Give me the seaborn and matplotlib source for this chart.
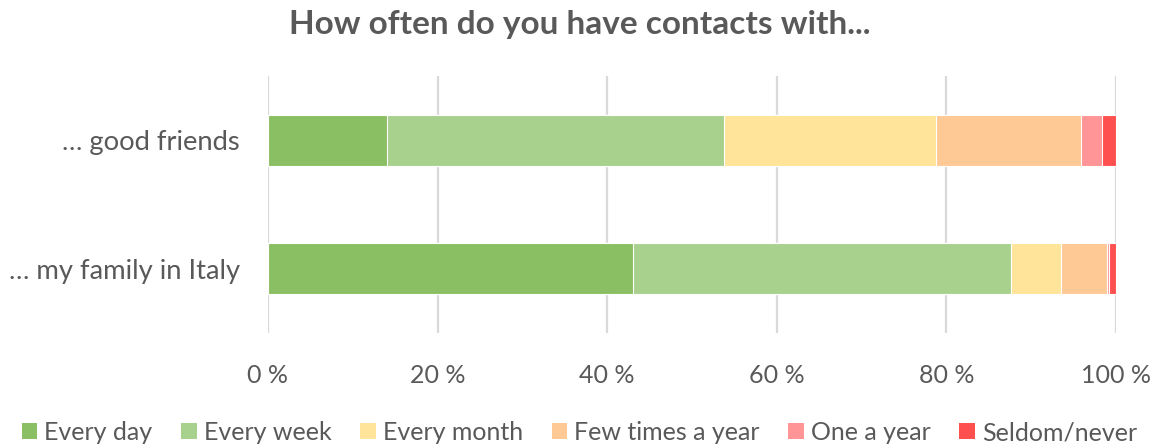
import matplotlib
matplotlib.use("Agg")
import matplotlib.pyplot as plt
from matplotlib.patches import Patch
import numpy as np
import pandas as pd
import seaborn as sns

# Survey answers (percent of respondents)
categories = ["\u2026 good friends", "\u2026 my family in Italy"]
series = ["Every day", "Every week", "Every month", "Few times a year", "One a year", "Seldom/never"]
every_day = [14.0, 43.1]
every_week = [39.8, 44.5]
every_month = [25.0, 5.9]
few_times_a_year = [17.1, 5.4]
one_a_year = [2.5, 0.3]
seldom_never = [1.6, 0.8]
tick_values = [0, 20, 40, 60, 80, 100]
tick_labels = ["0 %", "20 %", "40 %", "60 %", "80 %", "100 %"]

colors = ["#8BBF63", "#A9D18E", "#FFE499", "#FFC995", "#FF9596", "#FF5050"]
text_color = "#595959"

sns.set_theme(style="white")
plt.rcParams["font.family"] = ["Lato", "DejaVu Sans"]

values = np.array([every_day, every_week, every_month, few_times_a_year, one_a_year, seldom_never])
cum = np.cumsum(values, axis=0)

fig = plt.figure(figsize=(11.59, 4.47), dpi=100)
ax = fig.add_axes([0.2312, 0.255, 0.7317, 0.575])

# stacked bars: draw cumulative totals from the outermost segment inward
for i in range(len(series) - 1, -1, -1):
    df = pd.DataFrame({"category": categories, "value": cum[i]})
    sns.barplot(data=df, x="value", y="category", orient="h", color=colors[i],
                width=0.4, edgecolor="white", linewidth=0.8, saturation=1,
                ax=ax, zorder=3)

ax.set_xlim(0, 100)
ax.set_ylim(1.5, -0.5)
ax.set_xticks(tick_values)
ax.set_xticklabels(tick_labels)
ax.set_xlabel("")
ax.set_ylabel("")
ax.grid(axis="x", color="#D9D9D9", linewidth=1.6, zorder=0)
ax.grid(axis="y", visible=False)
for s in ax.spines.values():
    s.set_visible(False)
ax.tick_params(axis="x", length=0, pad=22, labelsize=18, labelcolor=text_color)
ax.tick_params(axis="y", length=0, pad=20, labelsize=19.7, labelcolor=text_color)

fig.text(0.5, 0.946, "How often do you have contacts with...", ha="center", va="center",
         fontsize=24, fontweight="bold", color=text_color)

handles = [Patch(facecolor=c, edgecolor="none") for c in colors]
fig.legend(handles, series, loc="center", bbox_to_anchor=(0.5, 0.032), ncol=6,
           frameon=False, fontsize=18, labelcolor=text_color, handlelength=0.62,
           handleheight=0.62, handletextpad=0.28, columnspacing=1.15)

fig.savefig("out.png", dpi=100)
